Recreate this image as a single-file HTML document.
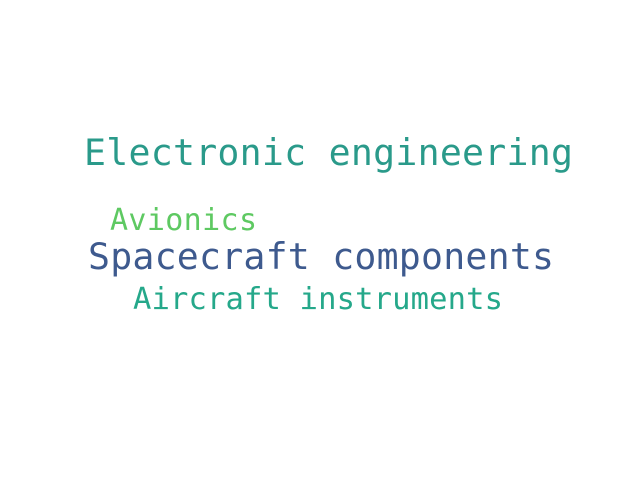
<!DOCTYPE html>
<html><head><meta charset="utf-8"><style>
html,body{margin:0;padding:0;background:#fff;}
svg{display:block;}
text{font-family:"DejaVu Sans Mono","Liberation Mono",monospace;}
</style></head><body>
<svg width="640" height="480">
<rect width="640" height="480" fill="#ffffff"/>
<text x="84" y="165" font-size="36.5" fill="#2a9a8a" textLength="489">Electronic engineering</text>
<text x="110" y="230" font-size="30" fill="#5ec962" textLength="147">Avionics</text>
<text x="88" y="269" font-size="36.5" fill="#3e5a8e" textLength="466">Spacecraft components</text>
<text x="133" y="309" font-size="30.5" fill="#25a88a" textLength="370">Aircraft instruments</text>
</svg>
</body></html>
